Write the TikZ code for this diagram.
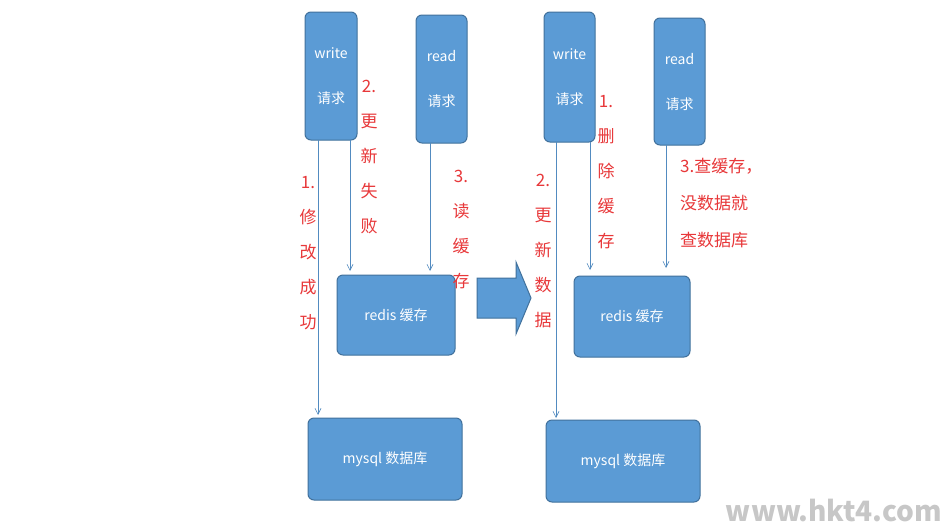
\documentclass[tikz,border=0pt]{standalone}
\usepackage{fontspec}
\setmainfont{Noto Sans CJK SC}
\usetikzlibrary{arrows.meta}
\begin{document}
\begin{tikzpicture}[x=1pt,y=-1pt,
  box/.style={draw=boxline,fill=boxblue,rounded corners=6pt,line width=1pt,text=white,font=\fontsize{14}{45}\selectfont,align=center,inner sep=0pt},
  conn/.style={draw=boxblue!90!black,line width=0.6pt,-{Straight Barb[length=6pt,width=6pt]}},
  lab/.style={text=labred,font=\fontsize{17}{35}\selectfont,align=center,inner sep=0pt}]
\definecolor{boxblue}{HTML}{5B9BD5}
\definecolor{boxline}{HTML}{41719C}
\definecolor{labred}{HTML}{E8383A}
\useasboundingbox (0,0) rectangle (950,525);
\fill[white] (0,0) rectangle (950,525);
% left
\node[box,minimum width=52pt,minimum height=128pt] (w1) at (331,76) {write\\请求};
\node[box,minimum width=51pt,minimum height=128pt] (r1) at (441.5,79) {read\\请求};
\node[box,minimum width=118pt,minimum height=80pt] (c1) at (396,315) {redis 缓存};
\node[box,minimum width=154pt,minimum height=82pt] (m1) at (385,459) {mysql 数据库};
\coordinate (a1) at (318,140); \coordinate (a1e) at (318,415);
\coordinate (a2) at (350,140); \coordinate (a2e) at (350,271);
\coordinate (a3) at (430,143); \coordinate (a3e) at (430,271);
\draw[conn] (a1) -- (a1e);
\draw[conn] (a2) -- (a2e);
\draw[conn] (a3) -- (a3e);
\node[lab] (l1) at (308,253) {1.\\修\\改\\成\\功};
\node[lab] (l2) at (369,157) {2.\\更\\新\\失\\败};
\node[lab] (l3) at (461,229) {3.\\读\\缓\\存};
% big arrow
\draw[boxline,fill=boxblue,line width=1pt] (477,278) -- (516,278) -- (516,262) -- (531,298) -- (516,334) -- (516,318) -- (477,318) -- cycle;
% right
\node[box,minimum width=51pt,minimum height=130pt] (w2) at (569.5,77) {write\\请求};
\node[box,minimum width=51pt,minimum height=127pt] (r2) at (679.5,81.5) {read\\请求};
\node[box,minimum width=116pt,minimum height=81pt] (c2) at (632,316.5) {redis 缓存};
\node[box,minimum width=154pt,minimum height=82pt] (m2) at (623,461) {mysql 数据库};
\coordinate (b1) at (556,142); \coordinate (b1e) at (556,418);
\coordinate (b2) at (590,142); \coordinate (b2e) at (590,270);
\coordinate (b3) at (666,145); \coordinate (b3e) at (666,268);
\draw[conn] (b1) -- (b1e);
\draw[conn] (b2) -- (b2e);
\draw[conn] (b3) -- (b3e);
\node[lab] (l4) at (543,251) {2.\\更\\新\\数\\据};
\node[lab] (l5) at (606,172) {1.\\删\\除\\缓\\存};
\node[lab,font=\fontsize{17}{37}\selectfont,align=left,anchor=north west] (l6) at (680,158) {3.查缓存，\\没数据就\\查数据库};
\node[text=black!22,font=\fontsize{28}{30}\bfseries\selectfont,anchor=east,inner sep=0pt] (wm) at (942,511) {www.hkt4.com};
\end{tikzpicture}
\end{document}
